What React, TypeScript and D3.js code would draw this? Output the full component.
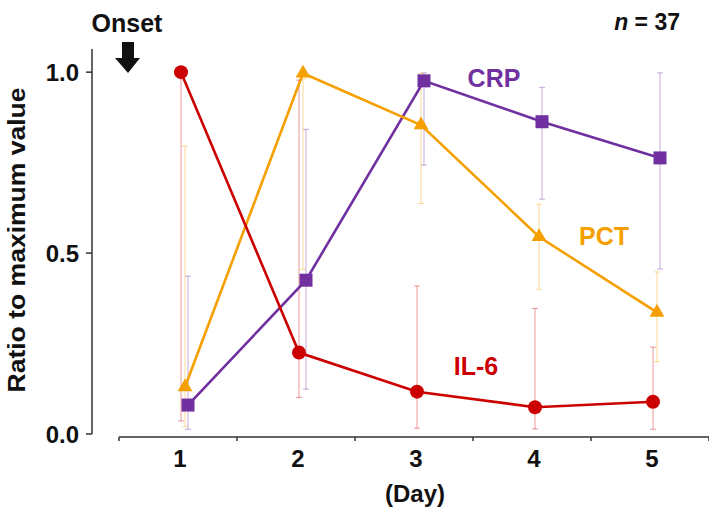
import * as d3 from "d3";

const width = 709;
const height = 508;

const days = ["1", "2", "3", "4", "5"];
const yTicks = [0, 0.5, 1];

// ratio to maximum value
const il6Mean = [1.0, 0.225, 0.117, 0.074, 0.089];
const il6Low = [0.036, 0.101, 0.016, 0.014, 0.013];
const il6High = [1.0, 0.978, 0.409, 0.347, 0.24];

const pctMean = [0.13, 0.997, 0.854, 0.545, 0.336];
const pctLow = [0.02, 0.455, 0.637, 0.4, 0.2];
const pctHigh = [0.796, 0.981, 0.996, 0.635, 0.448];

const crpMean = [0.08, 0.425, 0.976, 0.863, 0.763];
const crpLow = [0.013, 0.124, 0.743, 0.649, 0.456];
const crpHigh = [0.436, 0.842, 0.998, 0.958, 0.998];

type Series = {
  name: string;
  color: string;
  shape: "circle" | "triangle" | "square";
  offset: number;
  mean: number[];
  low: number[];
  high: number[];
};

const series: Series[] = [
  { name: "CRP", color: "#7030a0", shape: "square", offset: 10, mean: crpMean, low: crpLow, high: crpHigh },
  { name: "PCT", color: "#f5a000", shape: "triangle", offset: 7, mean: pctMean, low: pctLow, high: pctHigh },
  { name: "IL-6", color: "#cc0000", shape: "circle", offset: 3, mean: il6Mean, low: il6Low, high: il6High },
];

const font = "'Liberation Sans', Arial, Helvetica, sans-serif";

const x = d3.scaleBand<string>().domain(days).range([119, 709]).padding(0);
const y = d3.scaleLinear().domain([0, 1.064]).range([434, 49]);

const App = () => {
  const line = d3.line<number>();
  const tri = d3.symbol(d3.symbolTriangle, 95)()!;
  const cx = (i: number, s: Series) => (x(days[i]) as number) + x.bandwidth() / 2 + s.offset;

  return (
    <svg
      width={width}
      height={height}
      style={{ position: "absolute", left: 0, top: 0, background: "#fff" }}
      fontFamily={font}
      fontWeight="bold"
    >
      {/* y axis */}
      <line x1={92} x2={92} y1={y(1.064)} y2={y(0)} stroke="#333" strokeWidth={1.5} />
      {yTicks.map((t) => (
        <g key={t}>
          <line x1={86} x2={92} y1={y(t)} y2={y(t)} stroke="#333" strokeWidth={1.5} />
          <text x={79} y={y(t) + 8.5} textAnchor="end" fontSize={24} fill="#111">
            {t.toFixed(1)}
          </text>
        </g>
      ))}
      <text
        transform={`translate(25, 240) rotate(-90)`}
        textAnchor="middle"
        fontSize={24}
        textLength={305}
        lengthAdjust="spacingAndGlyphs"
        fill="#111"
      >
        Ratio to maximum value
      </text>

      {/* x axis */}
      <line x1={x.range()[0]} x2={x.range()[1]} y1={437} y2={437} stroke="#333" strokeWidth={1.5} />
      {days.map((d) => (
        <g key={d}>
          <line x1={x(d)} x2={x(d)} y1={437} y2={441} stroke="#333" strokeWidth={1.5} />
          <text
            x={(x(d) as number) + x.bandwidth() / 2 + 2}
            y={467}
            textAnchor="middle"
            fontSize={24}
            fill="#111"
          >
            {d}
          </text>
        </g>
      ))}
      <line x1={709} x2={709} y1={437} y2={441} stroke="#333" strokeWidth={1.5} />
      <text x={415} y={502} textAnchor="middle" fontSize={24} fill="#111">
        (Day)
      </text>

      {/* onset marker */}
      <text x={127} y={32} textAnchor="middle" fontSize={25} fill="#111">
        Onset
      </text>
      <path d="M122,42 H134 V58 H140 L128,73 L115,58 H122 Z" fill="#111" />

      <text x={680} y={30} textAnchor="end" fontSize={23} fill="#111">
        <tspan fontStyle="italic">n</tspan> = 37
      </text>

      {/* error bars */}
      {series.map((s) =>
        days.map((d, i) => {
          const bx = cx(i, s);
          return (
            <g key={s.name + d} stroke={s.color} strokeOpacity={0.4} strokeWidth={1}>
              <line x1={bx} x2={bx} y1={y(s.low[i])} y2={y(s.high[i])} />
              <line x1={bx - 3} x2={bx + 3} y1={y(s.low[i])} y2={y(s.low[i])} />
              <line x1={bx - 3} x2={bx + 3} y1={y(s.high[i])} y2={y(s.high[i])} />
            </g>
          );
        })
      )}

      {/* lines */}
      {series.map((s) => (
        <path
          key={s.name}
          d={line(s.mean.map((v, i) => [cx(i, s), y(v)]) as any) ?? undefined}
          fill="none"
          stroke={s.color}
          strokeWidth={2.6}
        />
      ))}

      {/* markers */}
      {series.map((s) =>
        s.mean.map((v, i) => {
          const px = cx(i, s);
          const py = y(v);
          if (s.shape === "circle")
            return <circle key={s.name + i} cx={px} cy={py} r={7} fill={s.color} />;
          if (s.shape === "square")
            return <rect key={s.name + i} x={px - 6.5} y={py - 6.5} width={13} height={13} fill={s.color} />;
          return <path key={s.name + i} d={tri} transform={`translate(${px},${py})`} fill={s.color} />;
        })
      )}

      {/* series labels */}
      <text x={494} y={87} textAnchor="middle" fontSize={25} fill="#7030a0">
        CRP
      </text>
      <text x={604} y={245} textAnchor="middle" fontSize={25} fill="#f5a000">
        PCT
      </text>
      <text x={476} y={375} textAnchor="middle" fontSize={25} fill="#cc0000">
        IL-6
      </text>
    </svg>
  );
};

export default App;
